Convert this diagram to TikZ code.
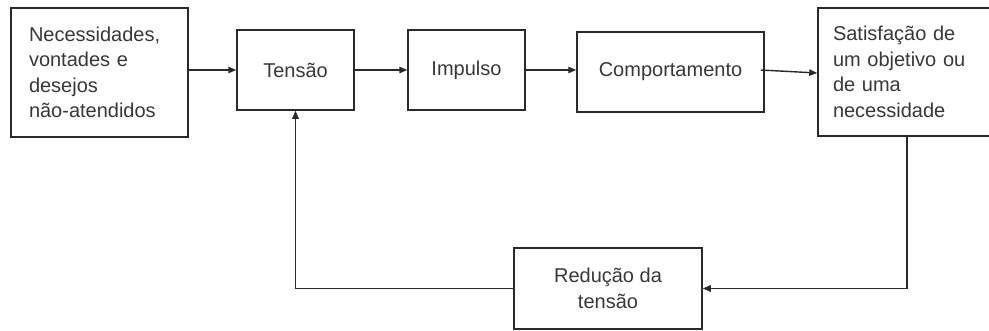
\documentclass[tikz,border=0pt]{standalone}
\usepackage{fontspec}
\setmainfont{Liberation Sans}
\usetikzlibrary{arrows.meta}
\definecolor{linec}{HTML}{2A2A2A}
\definecolor{textc}{HTML}{383838}
\tikzset{
  box/.style={draw=linec, line width=1.5pt, fill=white, inner sep=0pt,
    font=\fontsize{20}{25.5}\selectfont, text=textc},
  arr/.style={draw=linec, line width=1.4pt, -{Triangle[length=8pt,width=6.5pt]}},
}
\begin{document}
\begin{tikzpicture}[x=1pt,y=-1pt]
\useasboundingbox (0,0) rectangle (989,330);
\node[box, minimum width=177pt, minimum height=129pt, text width=141pt, align=left] (n) at (99.5,72.5)
  {Necessidades,\\vontades e\\desejos\\não-atendidos};
\node[box, minimum width=117pt, minimum height=80pt] (t) at (295.5,70) {Tensão};
\node[box, minimum width=117pt, minimum height=80pt] (i) at (466.5,70) {Impulso};
\node[box, minimum width=187pt, minimum height=80pt] (c) at (670.5,72) {Comportamento};
\node[box, minimum width=182pt, minimum height=128pt, text width=152pt, align=left] (s) at (909,72)
  {Satisfação de\\um objetivo ou\\de uma\\necessidade};
\node[box, minimum width=188pt, minimum height=81pt, align=center] (r) at (608,288.5)
  {Redução da\\tensão};
\coordinate (vx) at (907,200);
\draw[arr] (n.east |- t.west) -- (t.west);
\draw[arr] (t.east) -- (i.west);
\draw[arr] (i.east) -- (i.east -| c.west);
\draw[arr] ([xshift=-4pt,yshift=2pt]c.east) -- ([yshift=-1pt]s.west);
\draw[arr] (s.south -| vx) |- (r.east);
\draw[arr] (r.west) -| (t.south);
\end{tikzpicture}
\end{document}
